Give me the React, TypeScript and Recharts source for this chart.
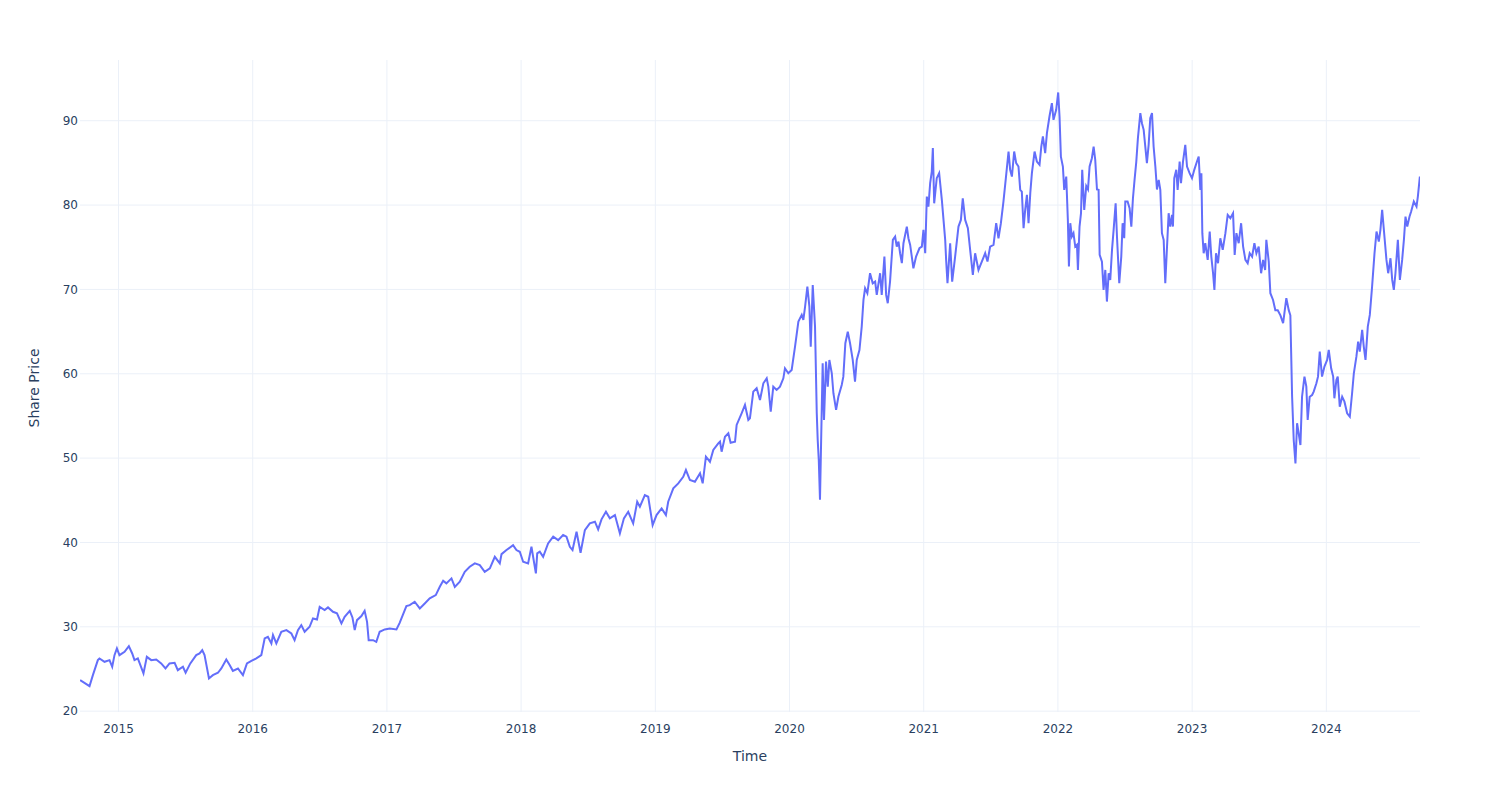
import React from 'react';
import { LineChart, Line, XAxis, YAxis, CartesianGrid } from 'recharts';

// Time in decimal years
const times: number[] = [
  2014.714, 2014.746, 2014.784, 2014.809, 2014.846, 2014.858, 2014.896, 2014.933, 2014.953, 2014.970,
  2014.988, 2015.007, 2015.045, 2015.077, 2015.102, 2015.119, 2015.144, 2015.186, 2015.211, 2015.244,
  2015.281, 2015.318, 2015.350, 2015.380, 2015.418, 2015.442, 2015.480, 2015.500, 2015.535, 2015.579,
  2015.604, 2015.624, 2015.641, 2015.674, 2015.703, 2015.741, 2015.766, 2015.803, 2015.828, 2015.852,
  2015.890, 2015.927, 2015.957, 2015.990, 2016.027, 2016.064, 2016.089, 2016.113, 2016.139, 2016.151,
  2016.176, 2016.213, 2016.251, 2016.288, 2016.312, 2016.337, 2016.362, 2016.387, 2016.424, 2016.449,
  2016.479, 2016.499,
  2016.536, 2016.561, 2016.598, 2016.628, 2016.661, 2016.685, 2016.723, 2016.743, 2016.760, 2016.777,
  2016.810, 2016.834, 2016.852, 2016.864, 2016.897, 2016.921, 2016.946, 2016.984, 2017.021, 2017.071,
  2017.095, 2017.145, 2017.170, 2017.207, 2017.245, 2017.282, 2017.319, 2017.364, 2017.394, 2017.419,
  2017.443, 2017.481, 2017.506, 2017.543, 2017.580, 2017.617, 2017.655, 2017.692, 2017.729, 2017.767,
  2017.804, 2017.841, 2017.854, 2017.891, 2017.940, 2017.965, 2017.990, 2018.015, 2018.052, 2018.077,
  2018.110, 2018.120, 2018.139,
  2018.164, 2018.201, 2018.239, 2018.276, 2018.313, 2018.338, 2018.363, 2018.383, 2018.413, 2018.443,
  2018.475, 2018.512, 2018.550, 2018.574, 2018.599, 2018.632, 2018.661, 2018.699, 2018.736, 2018.766,
  2018.798, 2018.835, 2018.865, 2018.885, 2018.922, 2018.947, 2018.980, 2019.009, 2019.047, 2019.079,
  2019.096, 2019.134, 2019.171, 2019.208, 2019.228, 2019.258, 2019.295, 2019.333, 2019.353, 2019.377,
  2019.407, 2019.432, 2019.469,
  2019.482, 2019.494, 2019.519, 2019.544, 2019.561, 2019.594, 2019.606, 2019.643, 2019.668, 2019.693,
  2019.705, 2019.730, 2019.755, 2019.780, 2019.805, 2019.830, 2019.842, 2019.860, 2019.879, 2019.904,
  2019.929, 2019.954, 2019.966, 2019.991, 2020.016, 2020.041, 2020.066, 2020.091, 2020.103, 2020.116,
  2020.133, 2020.148, 2020.158, 2020.173, 2020.190, 2020.203, 2020.210, 2020.218, 2020.227, 2020.240,
  2020.247, 2020.257, 2020.272, 2020.285, 2020.297, 2020.315, 2020.327, 2020.347, 2020.364, 2020.389,
  2020.401, 2020.416, 2020.434, 2020.451,
  2020.471, 2020.488, 2020.501, 2020.521, 2020.538, 2020.551,
  2020.563, 2020.580, 2020.600, 2020.620, 2020.638, 2020.650, 2020.675, 2020.687, 2020.707, 2020.720,
  2020.732, 2020.749, 2020.770, 2020.787, 2020.799, 2020.812, 2020.824, 2020.837, 2020.849, 2020.874,
  2020.886, 2020.899, 2020.923, 2020.943, 2020.968, 2020.986, 2020.998, 2021.011, 2021.023, 2021.035,
  2021.048, 2021.060, 2021.068, 2021.078, 2021.097, 2021.115, 2021.135, 2021.160, 2021.167, 2021.177,
  2021.197, 2021.212, 2021.234, 2021.259, 2021.277, 2021.291, 2021.309, 2021.329, 2021.346, 2021.366,
  2021.383, 2021.408, 2021.433, 2021.458, 2021.475, 2021.495, 2021.520, 2021.540, 2021.557, 2021.575,
  2021.594, 2021.612, 2021.632,
  2021.644, 2021.657, 2021.674, 2021.689, 2021.706, 2021.719, 2021.731, 2021.744, 2021.756, 2021.769,
  2021.781, 2021.794, 2021.806, 2021.826, 2021.843, 2021.863, 2021.876, 2021.888, 2021.905, 2021.918,
  2021.937, 2021.955, 2021.967, 2021.987, 2022.002, 2022.012, 2022.022, 2022.037, 2022.047, 2022.062,
  2022.074, 2022.082, 2022.092, 2022.104, 2022.116, 2022.129, 2022.142, 2022.149, 2022.161, 2022.172,
  2022.181, 2022.196, 2022.211, 2022.224, 2022.236, 2022.253, 2022.266, 2022.278, 2022.291, 2022.303,
  2022.311, 2022.328, 2022.340, 2022.353, 2022.365, 2022.378, 2022.390, 2022.403, 2022.415, 2022.430,
  2022.440, 2022.457, 2022.472, 2022.482, 2022.494, 2022.502, 2022.519, 2022.534, 2022.547, 2022.559,
  2022.571, 2022.584, 2022.596, 2022.614, 2022.626, 2022.639, 2022.651, 2022.663, 2022.676, 2022.688,
  2022.701, 2022.713, 2022.726, 2022.738, 2022.751, 2022.763, 2022.775, 2022.788, 2022.800, 2022.813,
  2022.825,
  2022.837, 2022.850, 2022.857, 2022.867, 2022.882, 2022.892, 2022.907, 2022.917, 2022.932, 2022.949,
  2022.962, 2022.981, 2022.999, 2023.016, 2023.036, 2023.049, 2023.061, 2023.069, 2023.076, 2023.086,
  2023.098, 2023.116, 2023.131, 2023.143, 2023.156, 2023.166, 2023.178, 2023.193, 2023.210, 2023.228,
  2023.248, 2023.265, 2023.285, 2023.305, 2023.317, 2023.330, 2023.347, 2023.365, 2023.380, 2023.397,
  2023.414, 2023.429, 2023.447, 2023.464, 2023.479, 2023.496, 2023.514, 2023.529, 2023.544, 2023.553,
  2023.571, 2023.583, 2023.603, 2023.620, 2023.638, 2023.658, 2023.678, 2023.702, 2023.720, 2023.732,
  2023.745, 2023.757, 2023.770, 2023.782, 2023.794, 2023.807, 2023.819, 2023.837, 2023.851, 2023.861,
  2023.876, 2023.894, 2023.906, 2023.926, 2023.938, 2023.951, 2023.968, 2023.986, 2024.006,
  2024.018, 2024.036, 2024.051, 2024.060, 2024.075, 2024.085, 2024.100, 2024.118, 2024.135, 2024.155,
  2024.175, 2024.192, 2024.205, 2024.224, 2024.237, 2024.249, 2024.267, 2024.279, 2024.292, 2024.309,
  2024.324, 2024.341, 2024.359, 2024.374, 2024.391, 2024.403, 2024.416, 2024.433, 2024.448, 2024.461,
  2024.478, 2024.491, 2024.503, 2024.515, 2024.533, 2024.548, 2024.565, 2024.578, 2024.590, 2024.603,
  2024.620, 2024.632, 2024.652, 2024.672, 2024.682, 2024.697,
];

// Share price readings
const prices: number[] = [
  23.68, 23.36, 22.97, 24.27, 26.05, 26.25, 25.85, 26.05, 25.26, 26.64,
  27.43, 26.64, 27.04, 27.71, 26.84, 26.05, 26.25, 24.47, 26.44, 26.05,
  26.13, 25.66, 25.06, 25.66, 25.73, 24.86, 25.26, 24.55, 25.66, 26.64,
  26.84, 27.24, 26.64, 23.88, 24.27, 24.55, 25.06, 26.13, 25.46, 24.78,
  25.06, 24.27, 25.66, 25.97, 26.25, 26.64, 28.62, 28.81, 28.03, 29.02,
  28.03, 29.41, 29.61, 29.21, 28.42, 29.61, 30.20, 29.41, 30.00, 30.99,
  30.87, 32.37,
  31.98, 32.30, 31.78, 31.59, 30.40, 31.19, 31.90, 31.11, 29.61, 30.79,
  31.27, 31.90, 30.59, 28.42, 28.42, 28.22, 29.41, 29.69, 29.81, 29.69,
  30.47, 32.46, 32.57, 32.97, 32.18, 32.77, 33.37, 33.76, 34.74, 35.46,
  35.15, 35.74, 34.74, 35.34, 36.52, 37.12, 37.52, 37.32, 36.52, 36.92,
  38.30, 37.52, 38.62, 39.10, 39.69, 39.10, 38.90, 37.71, 37.52, 39.49,
  36.33, 38.71, 38.90,
  38.30, 39.89, 40.68, 40.28, 40.88, 40.68, 39.49, 39.10, 41.27, 38.78,
  41.47, 42.26, 42.46, 41.55, 42.74, 43.64, 42.86, 43.25, 41.08, 42.86,
  43.64, 42.26, 44.83, 44.24, 45.62, 45.42, 42.06, 43.25, 44.04, 43.25,
  44.83, 46.41, 47.01, 47.79, 48.59, 47.40, 47.20, 48.20, 47.01, 50.17,
  49.57, 50.96, 51.75,
  51.95, 50.76, 52.54, 52.94, 51.83, 51.95, 53.93, 55.31, 56.30, 54.52,
  54.72, 57.88, 58.28, 56.89, 58.87, 59.46, 58.47, 55.50, 58.47, 58.08,
  58.47, 59.46, 60.65, 60.06, 60.45, 63.22, 66.18, 66.98, 66.38, 67.96,
  70.33, 67.96, 63.22, 70.53, 65.59, 55.31, 52.15, 49.78, 45.08, 55.71,
  61.24, 54.52, 61.44, 58.47, 61.64, 60.06, 57.69, 55.71, 57.28, 58.67,
  59.66, 63.62, 64.99, 63.62,
  61.64, 59.06, 61.64, 62.82, 65.59, 68.75,
  70.14, 69.55, 71.92, 70.73, 70.93, 69.35, 71.92, 69.35, 73.89, 69.35,
  68.36, 70.93, 75.87, 76.27, 75.08, 75.67, 74.29, 73.11, 75.48, 77.45,
  76.07, 75.28, 72.51, 73.89, 74.88, 75.08, 77.06, 74.29, 81.01, 79.82,
  82.60, 83.97, 86.75, 80.21, 83.19, 83.78, 80.61, 75.87, 73.50, 70.73,
  75.48, 70.93, 73.89, 77.45, 78.24, 80.81, 78.24, 77.26, 74.69, 71.72,
  74.29, 72.31, 73.30, 74.29, 73.30, 75.08, 75.28, 77.85, 76.07, 77.85,
  80.42, 83.19, 86.35,
  84.18, 83.38, 86.35, 84.97, 84.57, 81.80, 81.60, 77.26, 79.43, 81.21,
  77.85, 81.41, 83.78, 86.35, 85.16, 84.77, 86.94, 88.13, 86.15, 88.53,
  90.50, 92.08, 90.11, 91.29, 93.35, 90.50, 85.75, 84.57, 81.80, 83.38,
  78.24, 72.71, 77.85, 76.27, 76.67, 75.08, 75.28, 72.31, 77.45, 79.04,
  84.18, 79.43, 82.25, 81.85, 84.57, 85.56, 86.94, 85.36, 81.85, 81.80,
  74.09, 73.30, 69.94, 72.31, 68.56, 71.92, 71.13, 74.69, 77.06, 80.21,
  76.27, 70.73, 73.89, 77.85, 76.07, 80.42, 80.42, 79.63, 77.45, 80.81,
  82.99, 85.16, 87.93, 90.90, 89.71, 88.92, 86.94, 84.97, 87.14, 90.30,
  90.90, 86.94, 84.57, 81.85, 82.99, 81.80, 76.67, 75.87, 70.73, 75.08,
  79.04,
  77.45, 78.84, 77.45, 83.19, 84.18, 81.80, 85.16, 82.60, 85.16, 87.14,
  84.57, 83.78, 83.19, 84.18, 85.16, 85.75, 81.80, 83.78, 76.67, 74.29,
  75.48, 73.50, 76.86, 73.89, 71.92, 69.94, 74.29, 73.11, 76.07, 74.69,
  76.67, 78.84, 78.44, 79.04, 74.09, 76.67, 75.48, 77.85, 75.08, 73.50,
  73.11, 74.29, 73.89, 75.48, 74.29, 75.08, 71.92, 73.50, 72.31, 75.87,
  73.30, 69.55, 68.75, 67.54, 67.54, 66.93, 65.99, 68.96, 67.54, 66.93,
  57.28, 52.15, 49.38, 54.13, 52.94, 51.55, 57.28, 59.66, 58.47, 54.52,
  57.28, 57.48, 57.88, 58.87, 59.66, 62.62, 59.66, 60.85, 61.64,
  62.82, 60.65, 59.66, 57.09, 59.26, 59.66, 56.10, 57.28, 56.69, 55.31,
  54.91, 57.69, 60.06, 62.03, 63.81, 62.62, 65.20, 63.22, 61.64, 65.59,
  66.98, 70.33, 74.29, 76.86, 75.67, 77.06, 79.43, 76.27, 73.50, 71.92,
  73.70, 71.13, 69.94, 71.92, 75.87, 71.13, 73.50, 75.87, 78.64, 77.45,
  78.64, 79.23, 80.42, 79.82, 81.01, 83.38,
];

const yearTicks: number[] = [2015, 2016, 2017, 2018, 2019, 2020, 2021, 2022, 2023, 2024];
const priceTicks: number[] = [20, 30, 40, 50, 60, 70, 80, 90];
const xDomain: [number, number] = [2014.713, 2024.698];
const yDomain: [number, number] = [19.9, 97.2];

const data = times.map((t, i) => ({ t, price: prices[i] }));

const FONT = '"DejaVu Sans", Verdana, sans-serif';
const INK = '#2a3f5f';
const GRID = '#EBF0F8';
const LINE = '#636efa';

const applyScale = (axis: any, v: number): number => {
  const s = axis && axis.scale;
  if (typeof s === 'function') return s(v);
  if (s && typeof s.map === 'function') return s.map(v);
  return NaN;
};

const xTitle = () => (
  <text x={750} y={761} textAnchor="middle" fill={INK} fontSize={14} fontFamily={FONT}>
    Time
  </text>
);

const yTitle = () => (
  <text
    x={39}
    y={388}
    textAnchor="middle"
    fill={INK}
    fontSize={14}
    fontFamily={FONT}
    transform="rotate(-90 39 388)"
  >
    Share Price
  </text>
);

export default function App() {
  return (
    <div style={{ position: 'absolute', left: 0, top: 0, width: 1500, height: 800, background: '#ffffff' }}>
      <LineChart width={1500} height={800} data={data} margin={{ top: 60, right: 80, bottom: 0, left: 0 }}>
        <CartesianGrid
          stroke={GRID}
          strokeWidth={1}
          horizontalCoordinatesGenerator={(p: any) => priceTicks.map((v) => applyScale(p.yAxis, v))}
          verticalCoordinatesGenerator={(p: any) => yearTicks.map((v) => applyScale(p.xAxis, v))}
        />
        <XAxis
          type="number"
          dataKey="t"
          domain={xDomain}
          ticks={yearTicks}
          allowDataOverflow
          axisLine={false}
          tickLine={false}
          tickSize={0}
          tickMargin={12}
          height={88}
          interval={0}
          tick={{ fill: INK, fontSize: 12, fontFamily: FONT }}
          tickFormatter={(v: number) => String(v)}
          label={xTitle}
        />
        <YAxis
          type="number"
          domain={yDomain}
          ticks={priceTicks}
          allowDataOverflow
          axisLine={false}
          tickLine={false}
          tickSize={0}
          tickMargin={2}
          width={80}
          interval={0}
          tick={{ fill: INK, fontSize: 12, fontFamily: FONT }}
          label={yTitle}
        />
        <Line
          type="linear"
          dataKey="price"
          stroke={LINE}
          strokeWidth={2}
          dot={false}
          activeDot={false}
          isAnimationActive={false}
        />
      </LineChart>
    </div>
  );
}
